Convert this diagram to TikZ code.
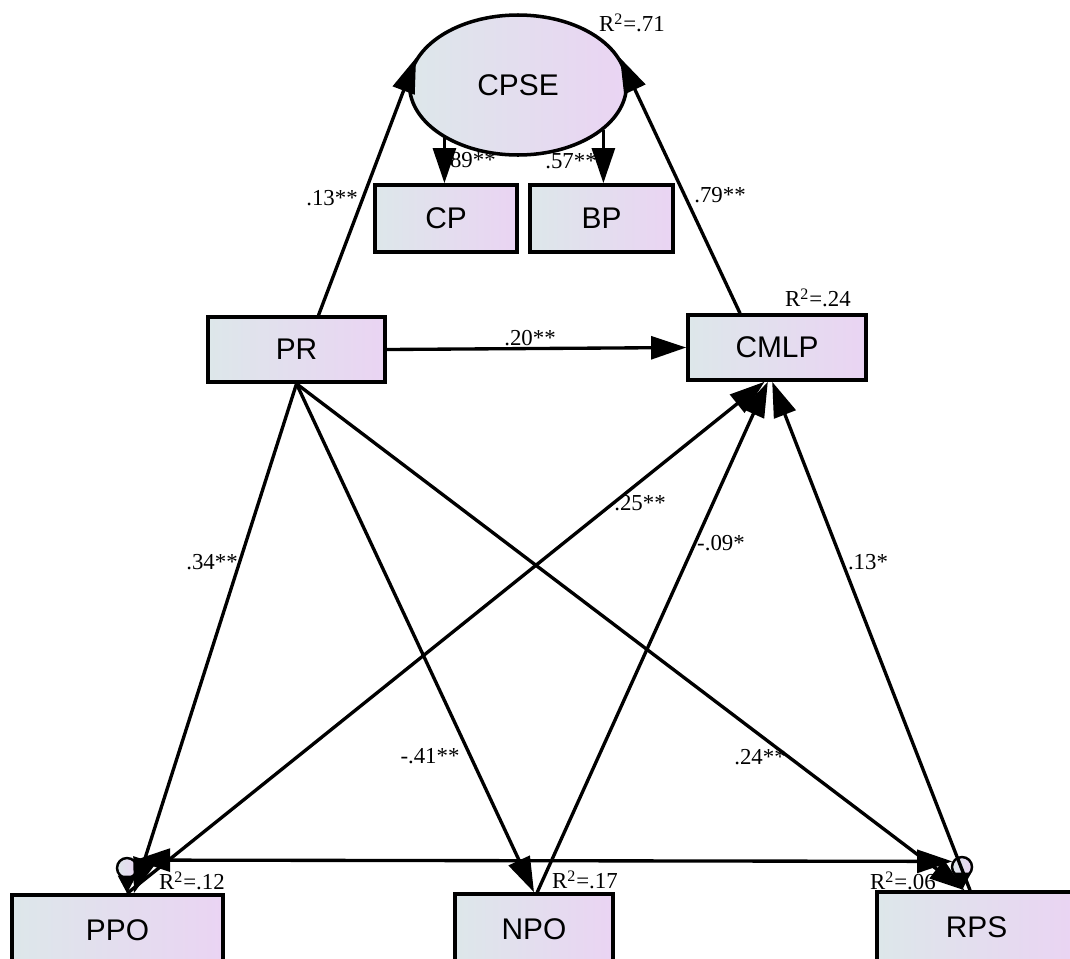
\documentclass[tikz,border=0pt]{standalone}
\usepackage{fontspec}
\setmainfont{Liberation Serif}
\setsansfont{Liberation Sans}
\usetikzlibrary{arrows.meta,shapes.geometric}

\definecolor{boxleft}{RGB}{221,231,234}
\definecolor{boxright}{RGB}{234,212,243}

\tikzset{
  var/.style={draw, line width=2pt, inner sep=0pt, left color=boxleft, right color=boxright,
    font=\sffamily\fontsize{17}{19}\selectfont},
  err/.style={draw, circle, line width=1.4pt, minimum size=4mm, inner sep=0pt,
    left color=boxleft, right color=boxright},
  reg/.style={line width=1.9pt, -{Triangle[length=20pt,width=13pt]}},
  cov/.style={line width=1.9pt, {Triangle[length=20pt,width=13pt]}-{Triangle[length=20pt,width=13pt]}},
  errarr/.style={line width=1.9pt, -{Triangle[length=10pt,width=10pt]}},
  coef/.style={font=\fontsize{13}{15}\selectfont, inner sep=1pt},
}

\begin{document}
\begin{tikzpicture}[x=0.2mm, y=-0.2mm]
    \useasboundingbox (0,0) rectangle (1070,958);
    \clip (0,0) rectangle (1070,958);

    % latent variable and its indicators
    \node[var, ellipse, minimum width=43.4mm, minimum height=28mm] (CPSE) at (518,85) {CPSE};
    \node[var, minimum width=28.4mm, minimum height=13.4mm] (CP) at (446,218.5) {CP};
    \node[var, minimum width=28.6mm, minimum height=13.4mm] (BP) at (601.5,218.5) {BP};

    % observed variables
    \node[var, minimum width=35.4mm, minimum height=13mm] (PR) at (296.5,349.5) {PR};
    \node[var, minimum width=35.6mm, minimum height=13mm] (CMLP) at (777,347.5) {CMLP};
    \node[var, minimum width=42.2mm, minimum height=14mm] (PPO) at (117.5,930) {PPO};
    \node[var, minimum width=31.6mm, minimum height=14mm] (NPO) at (534,929) {NPO};
    \node[var, minimum width=39.8mm, minimum height=14mm] (RPS) at (976.5,927) {RPS};

    % error terms
    \node[err] (e1) at (127,868) {};
    \node[err] (e3) at (962,867) {};

    % measurement paths
    \draw[reg] (CPSE.216) -- (CPSE.216 |- CP.north);
    \draw[reg] (CPSE.332) -- (CPSE.332 |- BP.north);

    % structural paths
    \draw[reg] ([xshift=4.4mm]PR.north) -- (CPSE.165);
    \draw[reg] ([xshift=-7.4mm]CMLP.north) -- (CPSE.15);
    \draw[reg] (PR.east) -- (CMLP.west);
    \draw[reg] (PR.south) -- (PPO.66);
    \draw[reg] (PR.south) -- (NPO.north);
    \draw[reg] (PR.south) -- (RPS.108);
    \draw[reg] (PPO.75) -- (CMLP.250);
    \draw[reg] (NPO.85) -- (CMLP.255);
    \draw[reg] (RPS.100) -- (CMLP.262);

    % residuals and their covariance
    \draw[errarr] (e1) -- (e1 |- PPO.north);
    \draw[errarr] (e3) -- (e3 |- RPS.north);
    \draw[cov] (e1.45) -- (e3.150);

    % coefficients
    \node[coef] (c1) at (470,160) {.89**};
    \node[coef] (c2) at (571,161) {.57**};
    \node[coef] (c3) at (332,198) {.13**};
    \node[coef] (c4) at (720,195) {.79**};
    \node[coef] (c5) at (530,338) {.20**};
    \node[coef] (c6) at (212,562) {.34**};
    \node[coef] (c7) at (640,503) {.25**};
    \node[coef] (c8) at (721,543) {-.09*};
    \node[coef] (c9) at (868,562) {.13*};
    \node[coef] (c10) at (430,756) {-.41**};
    \node[coef] (c11) at (760,757) {.24**};

    % explained variance
    \node[coef] (r1) at (632,23) {R\textsuperscript{2}=.71};
    \node[coef] (r2) at (818,298) {R\textsuperscript{2}=.24};
    \node[coef] (r3) at (192,881) {R\textsuperscript{2}=.12};
    \node[coef] (r4) at (585,880) {R\textsuperscript{2}=.17};
    \node[coef] (r5) at (903,881) {R\textsuperscript{2}=.06};
\end{tikzpicture}
\end{document}
